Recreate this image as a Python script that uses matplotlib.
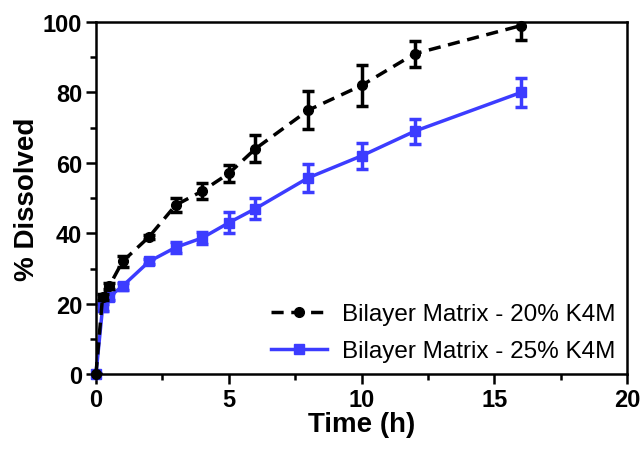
import matplotlib
matplotlib.use("Agg")
import matplotlib.pyplot as plt
from matplotlib.ticker import MultipleLocator
from matplotlib.lines import Line2D

time_h = [0, 0.25, 0.5, 1, 2, 3, 4, 5, 6, 8, 10, 12, 16]
dis_20 = [0, 22, 25, 32, 39, 48, 52, 57, 64, 75, 82, 91, 99]
err_20 = [0, 0.8, 0.8, 1.5, 0.6, 2, 2.2, 2.3, 3.8, 5.5, 5.8, 3.7, 4]
dis_25 = [0, 19, 22, 25, 32, 36, 38.7, 43, 47, 55.8, 62, 69, 80]
err_25 = [0, 1, 1, 1, 0.6, 1.5, 1.8, 3, 3, 4, 3.6, 3.5, 4.2]

blue = "#3c3cff"
fonts = ["Liberation Sans Narrow", "Liberation Sans", "DejaVu Sans"]

fig = plt.figure(figsize=(6.44, 4.52), dpi=100)
ax = fig.add_axes([0.149, 0.170, 0.825, 0.779])

dash = (0, (3.5, 2.2))
eb1 = ax.errorbar(time_h, dis_20, yerr=err_20, color="black", ls=dash, lw=2.5,
                  marker="o", ms=7, capsize=4, capthick=2.5, elinewidth=2.5,
                  zorder=3)
eb2 = ax.errorbar(time_h, dis_25, yerr=err_25, color=blue, ls="-", lw=2.5,
                  marker="s", ms=7, capsize=4, capthick=2.5, elinewidth=2.5,
                  zorder=2)
# let the markers sit on the axes edge, but keep error bars inside
eb1.lines[0].set_clip_on(False)
eb2.lines[0].set_clip_on(False)

ax.set_xlim(0, 20)
ax.set_ylim(0, 100)
ax.xaxis.set_major_locator(MultipleLocator(5))
ax.xaxis.set_minor_locator(MultipleLocator(2.5))
ax.yaxis.set_major_locator(MultipleLocator(20))
ax.yaxis.set_minor_locator(MultipleLocator(10))

for s in ax.spines.values():
    s.set_linewidth(1.8)
ax.tick_params(which="major", direction="out", length=7, width=1.8, labelsize=17, pad=3)
ax.tick_params(which="minor", direction="out", length=4, width=1.8)
for lab in ax.get_xticklabels() + ax.get_yticklabels():
    lab.set_fontweight("bold")
    lab.set_family(fonts)

ax.set_xlabel("Time (h)", fontsize=20, fontweight="bold", family=fonts, labelpad=0)
ax.set_ylabel("% Dissolved", fontsize=20, fontweight="bold", family=fonts, labelpad=2)

handles = [
    Line2D([], [], color="black", ls=dash, lw=2.5, marker="o", ms=7),
    Line2D([], [], color=blue, ls="-", lw=2.5, marker="s", ms=7),
]
labels = ["Bilayer Matrix - 20% K4M", "Bilayer Matrix - 25% K4M"]
ax.legend(handles, labels, loc="lower right", frameon=False, handlelength=2.3,
          handletextpad=0.6, labelspacing=0.6,
          prop={"family": ["Liberation Sans", "DejaVu Sans"], "size": 17.5},
          borderaxespad=0.1)

fig.savefig("out.png", dpi=100)
